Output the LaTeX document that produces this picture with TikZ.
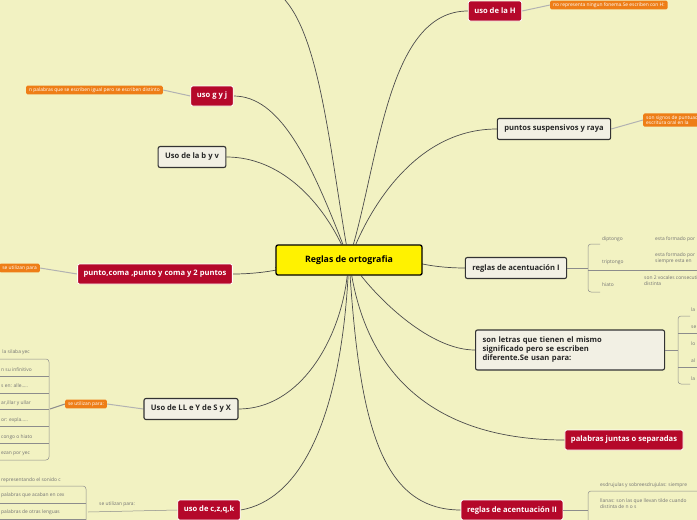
\documentclass[tikz,border=0pt]{standalone}
\usepackage{fontspec}
\setmainfont{Open Sans}
\usetikzlibrary{backgrounds}
\begin{document}
\begin{tikzpicture}[x=1pt,y=-1pt,
 conn/.style={draw=black!70,line width=0.7pt},
 sub/.style={draw=black!45,line width=0.5pt},
 redbox/.style={fill=rcol,draw=white,line width=0.8pt,rounded corners=2pt,text=white,font=\fontsize{7.6}{9}\selectfont\bfseries,minimum height=20pt,inner xsep=6pt},
 lightbox/.style={fill=lbox,draw=black!80,line width=1.1pt,rounded corners=2pt,text=black!85,font=\fontsize{7.6}{9}\selectfont\bfseries,minimum height=21pt,inner xsep=7pt},
 orangebox/.style={fill=ocol,rounded corners=1.5pt,text=white,font=\fontsize{4.9}{5.6}\selectfont,inner xsep=3pt,inner ysep=2pt},
 tiny/.style={text=black!55,font=\fontsize{4.9}{5.8}\selectfont,align=left,anchor=west,inner sep=1pt}]
\definecolor{bg}{HTML}{F2F2C2}
\definecolor{rcol}{HTML}{B5082A}
\definecolor{lbox}{HTML}{F2F0E4}
\definecolor{ocol}{HTML}{EE7E17}
\useasboundingbox (0,0) rectangle (697,520);
\coordinate (top) at (285,0);
% nodes
\node[fill=yellow,draw=black,line width=1.3pt,rounded corners=2pt,font=\fontsize{8.8}{10}\selectfont\bfseries,minimum width=146pt,minimum height=30pt] (c) at (349,260) {Reglas de ortografia};
\node[redbox] (h) at (495,11) {uso de la H};
\node[orangebox,anchor=west] (hl) at (550,5) {no representa ningun fonema.Se escriben con H:};
\node[lightbox] (ps) at (554,129) {puntos suspensivos y raya};
\node[orangebox,anchor=west,align=left] (psl) at (643,120) {son signos de puntuación\\escritura oral en la};
\node[lightbox] (a1) at (516,268) {reglas de acentuación I};
\node[lightbox,align=left,anchor=west,minimum height=40pt,text width=175pt] (sl) at (475,350) {son letras que tienen el mismo\\significado pero se escriben\\diferente.Se usan para:};
\node[redbox] (pj) at (624,440) {palabras juntas o separadas};
\node[redbox] (a2) at (512,510) {reglas de acentuación II};
\node[redbox] (cz) at (209,510) {uso de c,z,q,k};
\node[lightbox] (ll) at (191,409) {Uso de LL e Y de S y X};
\node[orangebox] (lll) at (86,404) {se utilizan para:};
\node[redbox] (pc) at (155,274) {punto,coma ,punto y coma y 2 puntos};
\node[orangebox,anchor=east] (pcl) at (40,268) {se utilizan para};
\node[lightbox] (bv) at (192,157) {Uso de la b y v};
\node[redbox] (gj) at (212,96) {uso g y j};
\node[orangebox,anchor=east] (gjl) at (163,90) {n palabras que se escriben igual pero se escriben distinto};
\begin{scope}[on background layer]
\fill[bg] (0,0) rectangle (697,520);
\draw[conn] (c) .. controls (330,150) and (320,40) .. (top);
\draw[conn] (c) .. controls (380,150) and (390,11) .. (h.west);
\draw[conn] (c) .. controls (375,200) and (420,129) .. (ps.west);
\draw[conn] (c) .. controls (380,255) and (420,268) .. (a1.west);
\draw[conn] (c) .. controls (380,300) and (430,350) .. (sl.west);
\draw[conn] (c) .. controls (370,380) and (440,440) .. (pj.west);
\draw[conn] (c) .. controls (360,420) and (380,510) .. (a2.west);
\draw[conn] (c) .. controls (340,420) and (300,500) .. (cz.east);
\draw[conn] (c) .. controls (340,340) and (300,409) .. (ll.east);
\draw[conn] (c) .. controls (300,265) and (270,274) .. (pc.east);
\draw[conn] (c) .. controls (320,200) and (280,157) .. (bv.east);
\draw[conn] (c) .. controls (310,160) and (280,96) .. (gj.east);
\draw[draw=black!30,line width=1pt] (h.east) -- (hl.west);
\draw[draw=black!30,line width=1pt] (ps.east) -- (psl.west);
\draw[draw=black!30,line width=1pt] (gj.west) -- (gjl.east);
\draw[draw=black!30,line width=1pt] (pc.west) -- (pcl.east);
\draw[draw=black!30,line width=1pt] (ll.west) -- (lll.east);
\end{scope}
% acentuación I
\draw[sub] (a1.east) -- (588,268);
\draw[sub,rounded corners=3pt] (600,244) -- (588,244) -- (588,292) -- (600,292);
\draw[sub] (588,270) -- (697,270);
\node[tiny] (d1) at (601,239) {diptongo};
\node[tiny] (d2) at (654,239) {esta formado por};
\node[tiny] (t1) at (601,262) {triptongo};
\node[tiny] (t2) at (654,258) {esta formado por\\siempre esta en};
\node[tiny] (h1) at (601,285) {hiato};
\node[tiny] (h2) at (643,281) {son 2 vocales consecutivas\\distinta};
% son letras
\draw[sub,line width=1pt] (sl.east) -- (678,350);
\draw[sub,rounded corners=3pt] (690,316) -- (678,316) -- (678,384) -- (690,384);
\draw[sub] (697,333) -- (678,333);
\draw[sub] (697,367) -- (678,367);
\node[tiny] (s1) at (690,310) {la};
\node[tiny] (s2) at (690,327) {se};
\node[tiny] (s3) at (690,344) {lo};
\node[tiny] (s4) at (690,361) {al};
\node[tiny] (s5) at (690,379) {la};
% acentuación II
\draw[sub] (a2.east) -- (588,510);
\draw[sub,rounded corners=3pt] (697,491) -- (588,491) -- (588,520);
\node[tiny] (e1) at (599,485) {esdrujulas y sobreesdrujulas: siempre};
\node[tiny] (e2) at (599,504) {llanas: son las que llevan tilde cuando\\distinta de n o s};
% c z q k
\node[tiny] (czl) at (98,504) {se utilizan para:};
\draw[sub] (cz.west) -- (88,512);
\draw[sub,rounded corners=3pt] (0,486) -- (86,486) -- (86,520);
\draw[sub] (0,503) -- (86,503);
\draw[sub] (0,519) -- (86,519);
\node[tiny] (c1) at (0,480) {representando el sonido c};
\node[tiny] (c2) at (0,495) {palabras que acaban en cex};
\node[tiny] (c3) at (0,512) {palabras de otras lenguas};
% LL Y S X
\draw[sub,line width=1pt] (lll.west) -- (50,409);
\draw[sub,rounded corners=3pt] (0,359) -- (49,359) -- (49,460) -- (0,460);
\foreach \yy in {376,393,409,426,443} \draw[sub] (0,\yy) -- (49,\yy);
\node[tiny] (l1) at (0,352) {~la silaba yec};
\node[tiny] (l2) at (0,370) {n su infinitivo};
\node[tiny] (l3) at (0,386) {s en: alle.....};
\node[tiny] (l4) at (0,403) {ar,illar y ullar};
\node[tiny] (l5) at (0,420) {or: expla.....};
\node[tiny] (l6) at (0,437) {congo o hiato};
\node[tiny] (l7) at (0,454) {ezan por yec};
\end{tikzpicture}
\end{document}
